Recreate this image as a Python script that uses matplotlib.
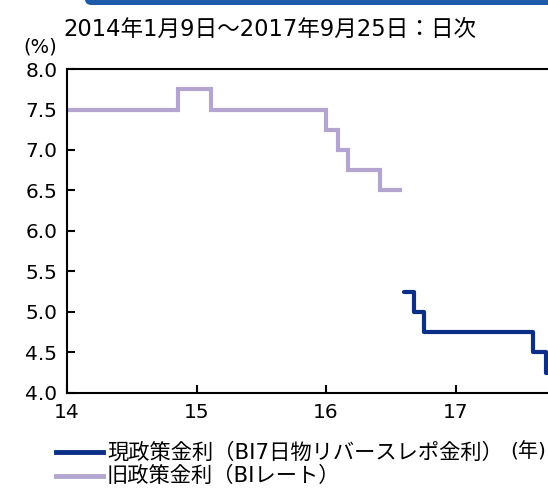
import matplotlib.pyplot as plt
from matplotlib.lines import Line2D
from matplotlib.patches import FancyBboxPatch

plt.rcParams['font.family'] = ['DejaVu Sans', 'Noto Sans CJK JP']

# old BI rate (year as fraction)
bi_x = [14.0, 14.86, 15.11, 16.0, 16.09, 16.17, 16.42, 16.57]
bi_y = [7.5, 7.75, 7.5, 7.25, 7.0, 6.75, 6.5, 6.5]

# BI 7-day reverse repo rate
rr_x = [16.6, 16.68, 16.76, 17.6, 17.7, 17.72]
rr_y = [5.25, 5.0, 4.75, 4.5, 4.25, 4.25]

yticks = [4.0, 4.5, 5.0, 5.5, 6.0, 6.5, 7.0, 7.5, 8.0]
xticks = [14, 15, 16, 17]
xlabels = ["14", "15", "16", "17"]

navy = "#0b2f86"
lav = "#b3a5cf"

fig = plt.figure(figsize=(5.48, 4.88), dpi=100)
ax = fig.add_axes([0.1223, 0.1947, 0.8777, 0.6639])

ax.plot(bi_x, bi_y, drawstyle="steps-post", color=lav, lw=3, solid_joinstyle="miter")
ax.plot(rr_x, rr_y, drawstyle="steps-post", color=navy, lw=3, solid_capstyle="round")

ax.set_xlim(14.0, 14.0 + 481 / 129.5)
ax.set_ylim(4.0, 8.0)
ax.set_yticks(yticks)
ax.set_yticklabels([f"{v:.1f}" for v in yticks], fontsize=14.5)
ax.set_xticks(xticks)
ax.set_xticklabels(xlabels, fontsize=14.5)
ax.tick_params(direction="in", length=6, width=1.5, pad=7)
ax.spines["right"].set_visible(False)
for s in ["left", "bottom", "top"]:
    ax.spines[s].set_linewidth(1.5)

fig.text(63 / 548, 1 - 29 / 488, "2014年1月9日～2017年9月25日：日次", fontsize=16.3, va="center", ha="left")
fig.text(40 / 548, 1 - 47 / 488, "(%)", fontsize=14, va="center", ha="center")
fig.text(546 / 548, 1 - 452 / 488, "(年)", fontsize=14.5, va="center", ha="right")

# legend
for yy, col, lab in [(452, navy, "現政策金利（BI7日物リバースレポ金利）"), (476, lav, "旧政策金利（BIレート）")]:
    fig.add_artist(Line2D([56 / 548, 103 / 548], [1 - yy / 488, 1 - yy / 488], color=col, lw=3.5, transform=fig.transFigure))
    fig.text(107 / 548, 1 - yy / 488, lab, fontsize=15.3, va="center", ha="left")

# blue header strip
fig.add_artist(FancyBboxPatch((85 / 548, 1 - 5 / 488), 0.9, 0.05, boxstyle="round,pad=0,rounding_size=0.012",
                              transform=fig.transFigure, color="#1d5ba8", lw=0))

fig.savefig("out.png", dpi=100)
